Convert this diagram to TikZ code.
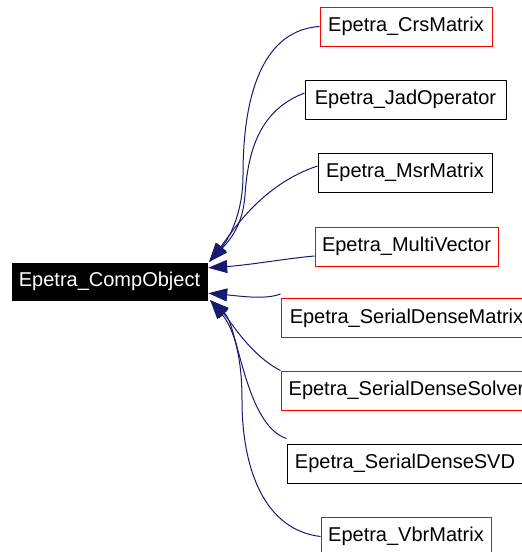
\documentclass[tikz,border=0pt]{standalone}
\usepackage{fontspec}
\setmainfont{Liberation Sans}
\usetikzlibrary{arrows.meta}
\definecolor{edgeblue}{HTML}{191970}
\definecolor{boxred}{HTML}{FF0000}
\begin{document}
\begin{tikzpicture}[x=1pt,y=-1pt,
  every node/.style={inner sep=0pt, font=\fontsize{20}{24}\selectfont},
  cls/.style={draw=black, line width=1pt, fill=white, minimum height=39pt, text=black},
  clsred/.style={cls, draw=boxred},
  basecls/.style={draw=black, fill=black, text=white, minimum height=37pt, minimum width=195pt},
  edge/.style={draw=edgeblue, line width=1pt, {Triangle[length=19pt,width=13pt]}-}]
\useasboundingbox (0,0) rectangle (522,552);
\clip (0,0) rectangle (522,552);
\node[basecls] (comp) at (109.5,281.5) {Epetra\_CompObject};
\node[clsred, minimum width=172pt] (crs) at (406,26.5) {Epetra\_CrsMatrix};
\node[cls, minimum width=201pt] (jad) at (405.5,99.5) {Epetra\_JadOperator};
\node[cls, minimum width=174pt] (msr) at (405,172.5) {Epetra\_MsrMatrix};
\node[clsred, minimum width=183pt] (mv) at (406.5,246.5) {Epetra\_MultiVector};
\node[clsred, minimum width=251pt] (sdm) at (406.5,318) {Epetra\_SerialDenseMatrix};
\node[clsred, minimum width=251pt] (sds) at (406.5,390.5) {Epetra\_SerialDenseSolver};
\node[cls, minimum width=236pt] (svd) at (405,463.5) {Epetra\_SerialDenseSVD};
\node[clsred, minimum width=170pt] (vbr) at (406,536.5) {Epetra\_VbrMatrix};
% upper edges
\draw[edge] ([shift={(2,-1)}]comp.north east) .. controls (228,240) and (243,215) .. (243,175)
  .. controls (243,90) and (265,30) .. (crs.west);
\draw[edge] ([shift={(2,-1)}]comp.north east) .. controls (230,240) and (243,225) .. (245,195)
  .. controls (248,150) and (260,110) .. ([yshift=6.5]jad.west);
\draw[edge] ([shift={(2,-1)}]comp.north east) .. controls (230,235) and (260,185) .. ([yshift=6.5]msr.west);
\draw[edge] ([shift={(1,5)}]comp.north east) .. controls (250,265) and (290,258) .. ([yshift=-9.5]mv.west);
% lower edges
\draw[edge] ([shift={(1,-7)}]comp.south east) .. controls (240,296) and (265,300) .. ([yshift=4]sdm.north west);
\draw[edge] ([shift={(3,0)}]comp.south east) .. controls (230,320) and (250,355) .. (sds.north west);
\draw[edge] ([shift={(3,0)}]comp.south east) .. controls (238,325) and (245,425) .. ([yshift=5]svd.north west);
\draw[edge] ([shift={(3,0)}]comp.south east) .. controls (235,330) and (242,360) .. (242,400)
  .. controls (242,470) and (265,530) .. (vbr.west);
\end{tikzpicture}
\end{document}
